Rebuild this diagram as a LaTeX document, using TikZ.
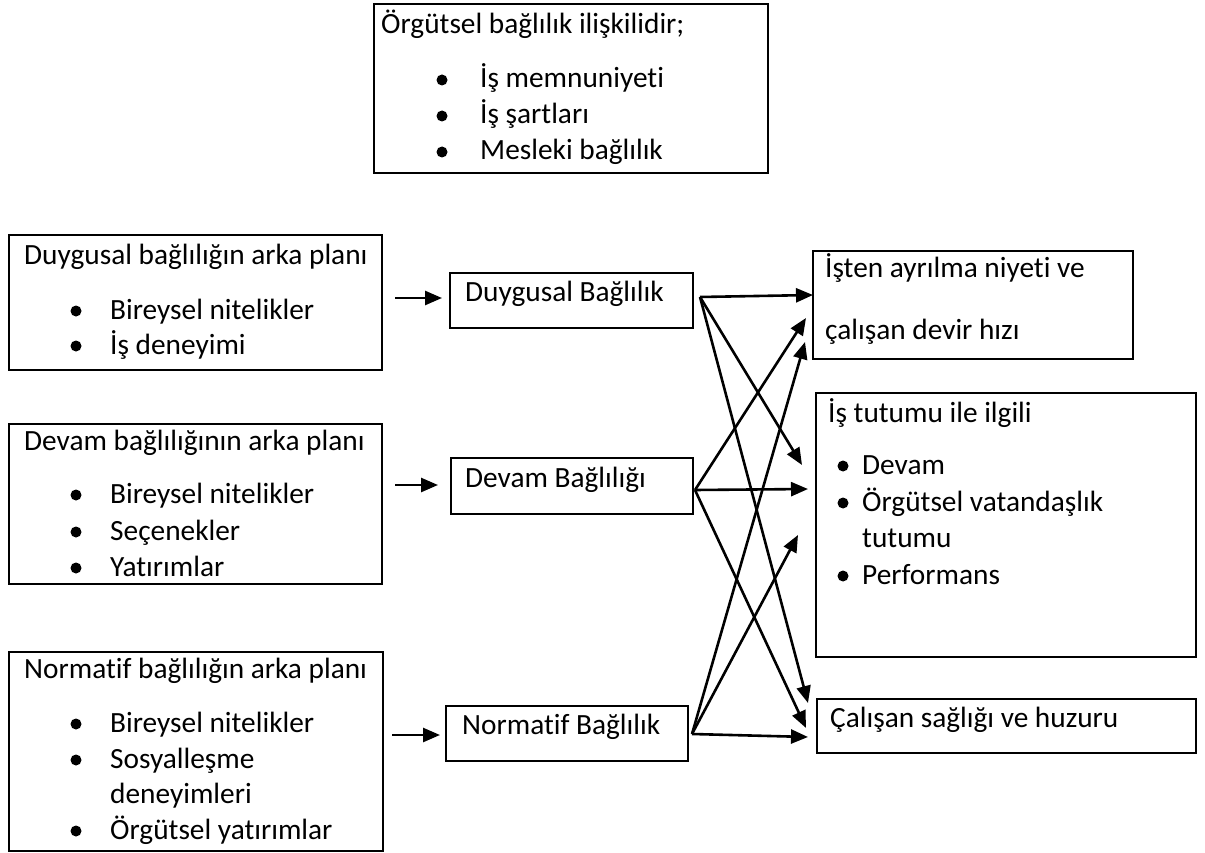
\documentclass[tikz,border=0pt]{standalone}
\usepackage{fontspec}
\setmainfont{Carlito}[Ligatures=NoCommon]
\usetikzlibrary{arrows.meta}
\begin{document}
\begin{tikzpicture}[x=1pt,y=-1pt,
  frame/.style={draw, line width=2.4pt, anchor=north west, inner sep=0pt},
  txt/.style={anchor=base west, inner sep=0pt, font=\fontsize{29.33}{35.8}\selectfont},
  link/.style={line width=2.6pt, -{Triangle[length=17pt,width=14pt]}},
  bulletdot/.style={fill=black}]
\useasboundingbox (0,0) rectangle (1205,853);

% ---- summary box at the top
\node[frame, minimum width=394pt, minimum height=169pt] (topbox) at (373,3) {};
\node[txt] (toptitle) at (381,34) {Örgütsel bağlılık ilişkilidir;};
\fill[bulletdot] (442,80) circle (5.5pt);
\fill[bulletdot] (442,116) circle (5.5pt);
\fill[bulletdot] (442,152) circle (5.5pt);
\node[txt] (topa) at (480,88) {İş memnuniyeti};
\node[txt] (topb) at (480,124) {İş şartları};
\node[txt] (topc) at (480,160) {Mesleki bağlılık};

% ---- antecedent boxes (left column)
\node[frame, minimum width=373pt, minimum height=135pt] (ant1) at (8,234) {};
\node[txt] (ant1t) at (24,265) {Duygusal bağlılığın arka planı};
\fill[bulletdot] (76,311) circle (5.5pt);
\fill[bulletdot] (76,346) circle (5.5pt);
\node[txt] (ant1a) at (110,319) {Bireysel nitelikler};
\node[txt] (ant1b) at (110,354) {İş deneyimi};

\node[frame, minimum width=373pt, minimum height=160pt] (ant2) at (8,423) {};
\node[txt] (ant2t) at (24,450) {Devam bağlılığının arka planı};
\fill[bulletdot] (76,495) circle (5.5pt);
\fill[bulletdot] (76,532) circle (5.5pt);
\fill[bulletdot] (76,568) circle (5.5pt);
\node[txt] (ant2a) at (110,503) {Bireysel nitelikler};
\node[txt] (ant2b) at (110,540) {Seçenekler};
\node[txt] (ant2c) at (110,576) {Yatırımlar};

\node[frame, minimum width=374pt, minimum height=199pt] (ant3) at (8,651) {};
\node[txt] (ant3t) at (24,678) {Normatif bağlılığın arka planı};
\fill[bulletdot] (76,724) circle (5.5pt);
\fill[bulletdot] (76,760) circle (5.5pt);
\fill[bulletdot] (76,831) circle (5.5pt);
\node[txt] (ant3a) at (110,732) {Bireysel nitelikler};
\node[txt] (ant3b) at (110,768) {Sosyalleşme};
\node[txt] (ant3c) at (110,803) {deneyimleri};
\node[txt] (ant3d) at (110,839) {Örgütsel yatırımlar};

% ---- commitment components (middle column)
\node[frame, minimum width=243pt, minimum height=55pt] (com1) at (449,272) {};
\node[txt] (com1t) at (465,301) {Duygusal Bağlılık};
\node[frame, minimum width=242pt, minimum height=56pt] (com2) at (450,457) {};
\node[txt] (com2t) at (465,487) {Devam Bağlılığı};
\node[frame, minimum width=242pt, minimum height=55pt] (com3) at (445,705) {};
\node[txt] (com3t) at (462,734) {Normatif Bağlılık};

% ---- outcomes (right column)
\node[frame, minimum width=320pt, minimum height=108pt] (out1) at (812,250) {};
\node[txt] (out1a) at (825,277) {İşten ayrılma niyeti ve};
\node[txt] (out1b) at (825,339) {çalışan devir hızı};

\node[frame, minimum width=380pt, minimum height=264pt] (out2) at (815,392) {};
\node[txt] (out2t) at (828,422) {İş tutumu ile ilgili};
\fill[bulletdot] (843,466) circle (5.5pt);
\fill[bulletdot] (843,503) circle (5.5pt);
\fill[bulletdot] (843,576) circle (5.5pt);
\node[txt] (out2a) at (862,474) {Devam};
\node[txt] (out2b) at (862,511) {Örgütsel vatandaşlık};
\node[txt] (out2c) at (862,547) {tutumu};
\node[txt] (out2d) at (862,584) {Performans};

\node[frame, minimum width=379pt, minimum height=54pt] (out3) at (816,698) {};
\node[txt] (out3t) at (830,727) {Çalışan sağlığı ve huzuru};

% ---- connector end points
\coordinate (in1) at (395,298);  \coordinate (in1e) at (442,298);
\coordinate (in2) at (395,485);  \coordinate (in2e) at (438,485);
\coordinate (in3) at (392,735);  \coordinate (in3e) at (440,735);
\coordinate (o1) at (700,297);
\coordinate (o2) at (695,490);
\coordinate (o3) at (692,734);
\coordinate (t11) at (813,295); \coordinate (t12) at (802,465); \coordinate (t13) at (808,703);
\coordinate (t21) at (806,318); \coordinate (t22) at (808,489); \coordinate (t23) at (806,728);
\coordinate (t31) at (805,342); \coordinate (t32) at (798,535); \coordinate (t33) at (808,737);

% ---- antecedents to components
\draw[link] (in1) -- (in1e);
\draw[link] (in2) -- (in2e);
\draw[link] (in3) -- (in3e);

% ---- components to outcomes
\draw[link] (o1) -- (t11);
\draw[link] (o1) -- (t12);
\draw[link] (o1) -- (t13);
\draw[link] (o2) -- (t21);
\draw[link] (o2) -- (t22);
\draw[link] (o2) -- (t23);
\draw[link] (o3) -- (t31);
\draw[link] (o3) -- (t32);
\draw[link] (o3) -- (t33);
\end{tikzpicture}
\end{document}
